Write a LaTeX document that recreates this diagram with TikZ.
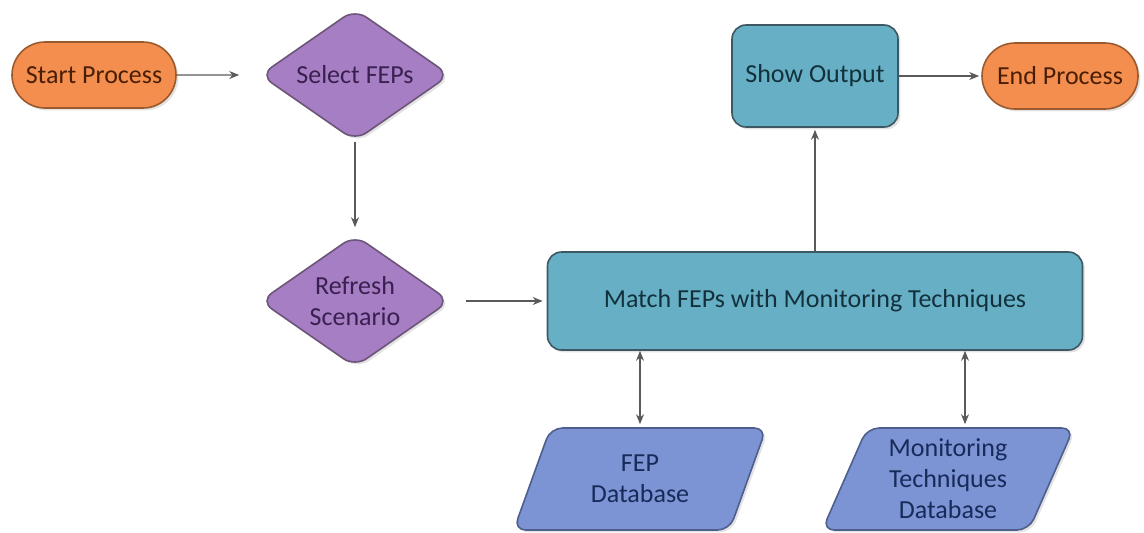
\documentclass[tikz,border=0pt]{standalone}
\usepackage{fontspec}
\setmainfont{Carlito}
\usetikzlibrary{shapes.geometric, shapes.misc, arrows.meta, shadows}

\definecolor{termfill}{HTML}{F48E4F}
\definecolor{termline}{HTML}{9A5A2E}
\definecolor{termtext}{HTML}{4A1E05}
\definecolor{decfill}{HTML}{A67EC3}
\definecolor{decline}{HTML}{6B5579}
\definecolor{dectext}{HTML}{3A2050}
\definecolor{procfill}{HTML}{67AFC5}
\definecolor{procline}{HTML}{3D5863}
\definecolor{proctext}{HTML}{13313D}
\definecolor{dbfill}{HTML}{7C94D4}
\definecolor{dbline}{HTML}{4E5F8D}
\definecolor{dbtext}{HTML}{172A5A}
\definecolor{arrowgray}{HTML}{5A5A5A}

\tikzset{
  box/.style={line width=0.8pt, align=center, inner sep=1pt,
    font=\fontsize{13}{15.5}\selectfont,
    drop shadow={opacity=0.22, shadow xshift=1.2pt, shadow yshift=-1.2pt}},
  terminal/.style={box, rounded rectangle, draw=termline, fill=termfill,
    text=termtext, minimum width=84pt, minimum height=33pt},
  decision/.style={box, diamond, aspect=1.45, rounded corners=7pt,
    draw=decline, fill=decfill, text=dectext,
    minimum width=95pt, minimum height=66pt},
  process/.style={box, rectangle, rounded corners=7pt, draw=procline,
    fill=procfill, text=proctext},
  database/.style={box, trapezium, trapezium left angle=68,
    trapezium right angle=112, trapezium stretches=true,
    rounded corners=6pt, draw=dbline, fill=dbfill, text=dbtext,
    minimum width=127pt, minimum height=51pt},
  flow/.style={draw=arrowgray, line width=0.7pt,
    -{Stealth[length=5pt, width=4pt]}},
  twoway/.style={flow, {Stealth[length=5pt, width=4pt]}-{Stealth[length=5pt, width=4pt]}}
}

\begin{document}
\begin{tikzpicture}[x=0.5pt, y=-0.5pt]
    \useasboundingbox (0,0) rectangle (1144,532);

    % Main flow
    \node[terminal] (start) at (94,75) {Start Process};
    \node[decision] (select) at (355,75) {Select FEPs};
    \node[decision] (refresh) at (355,301) {Refresh\\Scenario};
    \node[process, minimum width=267.5pt, minimum height=49pt] (match) at (815,301) {Match FEPs with Monitoring Techniques};
    \node[process, minimum width=83pt, minimum height=51pt] (show) at (815,76) {Show Output};
    \node[terminal, minimum width=80pt] (end) at (1060,76) {End Process};

    % Databases
    \node[database] (fepdb) at (640,479) {FEP\\Database};
    \node[database] (mondb) at (948,479) {Monitoring\\Techniques\\Database};

    % Arrows
    \path[flow, shorten >=10pt] (start) -- (select);
    \path[flow, shorten >=3.5pt] (select) -- (refresh);
    \path[flow, shorten <=7.5pt, shorten >=2pt] (refresh) -- (match);
    \path[flow, shorten >=1pt] (match) -- (show);
    \path[flow, shorten >=1pt] (show) -- (end);

    % Two-way arrows to the databases
    \path[twoway, shorten >=1.5pt] (match.south -| fepdb.center) -- (fepdb.north -| fepdb.center);
    \path[twoway, shorten >=1.5pt] (match.south -| 965,0) -- (mondb.north -| 965,0);

\end{tikzpicture}
\end{document}
